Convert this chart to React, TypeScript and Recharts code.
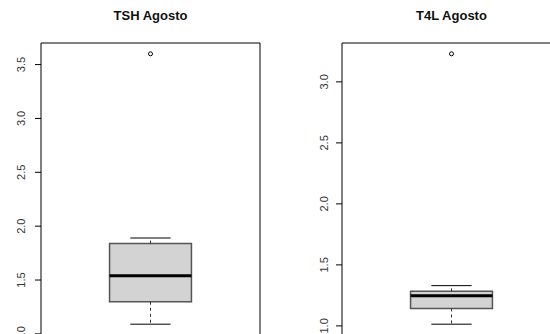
import React from 'react';
import {
  ComposedChart,
  XAxis,
  YAxis,
  Scatter,
  ReferenceArea,
  ReferenceLine,
} from 'recharts';

// one entry per panel
const titles = ['TSH Agosto', 'T4L Agosto'];
const whiskerLow = [1.09, 1.014];
const quartile1 = [1.298, 1.143];
const medians = [1.54, 1.248];
const quartile3 = [1.838, 1.283];
const whiskerHigh = [1.89, 1.33];
const outliers = [3.6, 3.23];
const yTicks = [
  [1.0, 1.5, 2.0, 2.5, 3.0, 3.5],
  [1.0, 1.5, 2.0, 2.5, 3.0],
];

const FONT = '"Liberation Sans", Arial, sans-serif';

const RotatedTick = (props: any) => {
  const { x, y, payload, shift } = props;
  return (
    <g transform={`translate(${x - shift},${y}) rotate(-90)`}>
      <text
        x={0}
        y={0}
        textAnchor="middle"
        dominantBaseline="central"
        fontSize={11}
        fontFamily={FONT}
        fill="#333"
      >
        {Number(payload.value).toFixed(1)}
      </text>
    </g>
  );
};

const OutlierDot = (props: any) => (
  <circle cx={props.cx} cy={props.cy} r={2} fill="#fff" stroke="#000" strokeWidth={1} />
);

interface PanelProps {
  i: number;
  left: number;
  axisWidth: number;
  shift: number;
}

const BoxPanel = ({ i, left, axisWidth, shift }: PanelProps) => {
  const lo = Math.min(whiskerLow[i], outliers[i]);
  const hi = Math.max(whiskerHigh[i], outliers[i]);
  const pad = (hi - lo) * 0.04;
  const domain: [number, number] = [lo - pad, hi + pad];
  const plotW = 219;
  const width = axisWidth + plotW + 15;
  const boxHalf = 0.187;
  const capHalf = 0.092;

  return (
    <div style={{ position: 'absolute', left, top: 0 }}>
      <div
        style={{
          position: 'absolute',
          left: axisWidth,
          top: 8,
          width: plotW,
          textAlign: 'center',
          fontFamily: FONT,
          fontWeight: 'bold',
          fontSize: 13,
          lineHeight: '15px',
          color: '#111',
        }}
      >
        {titles[i]}
      </div>
      <ComposedChart
        width={width}
        height={345}
        margin={{ top: 43, right: 15, bottom: 10, left: 0 }}
        data={[{ x: 1, y: outliers[i] }]}
      >
        <XAxis type="number" dataKey="x" domain={[0.5, 1.5]} hide />
        <YAxis
          type="number"
          domain={domain}
          ticks={yTicks[i]}
          allowDataOverflow
          width={axisWidth}
          axisLine={false}
          tickLine={{ stroke: '#000' }}
          tickSize={6}
          tickMargin={2}
          interval={0}
          tick={<RotatedTick shift={shift} />}
        />
        {/* plot frame */}
        <ReferenceArea
          x1={0.5}
          x2={1.5}
          y1={domain[0]}
          y2={domain[1]}
          fill="none"
          stroke="#000"
          strokeWidth={1}
          ifOverflow="visible"
        />
        <ReferenceArea
          x1={1 - boxHalf}
          x2={1 + boxHalf}
          y1={quartile1[i]}
          y2={quartile3[i]}
          fill="#d3d3d3"
          fillOpacity={1}
          stroke="#555"
          strokeWidth={1.5}
          ifOverflow="visible"
        />
        <ReferenceLine
          segment={[{ x: 1, y: quartile3[i] }, { x: 1, y: whiskerHigh[i] }]}
          stroke="#333"
          strokeDasharray="3 3"
          ifOverflow="visible"
        />
        <ReferenceLine
          segment={[{ x: 1, y: quartile1[i] }, { x: 1, y: whiskerLow[i] }]}
          stroke="#333"
          strokeDasharray="3 3"
          ifOverflow="visible"
        />
        <ReferenceLine
          segment={[{ x: 1 - capHalf, y: whiskerHigh[i] }, { x: 1 + capHalf, y: whiskerHigh[i] }]}
          stroke="#000"
          strokeWidth={1}
          ifOverflow="visible"
        />
        <ReferenceLine
          segment={[{ x: 1 - capHalf, y: whiskerLow[i] }, { x: 1 + capHalf, y: whiskerLow[i] }]}
          stroke="#000"
          strokeWidth={1}
          ifOverflow="visible"
        />
        <ReferenceLine
          segment={[{ x: 1 - boxHalf, y: medians[i] }, { x: 1 + boxHalf, y: medians[i] }]}
          stroke="#000"
          strokeWidth={3}
          ifOverflow="visible"
        />
        <Scatter dataKey="y" shape={<OutlierDot />} isAnimationActive={false} />
      </ComposedChart>
    </div>
  );
};

export default function App() {
  return (
    <div
      style={{
        position: 'absolute',
        left: 0,
        top: 0,
        width: 550,
        height: 334,
        overflow: 'hidden',
        background: '#fff',
      }}
    >
      <BoxPanel i={0} left={0} axisWidth={41} shift={12} />
      <BoxPanel i={1} left={275} axisWidth={67} shift={10.5} />
    </div>
  );
}
